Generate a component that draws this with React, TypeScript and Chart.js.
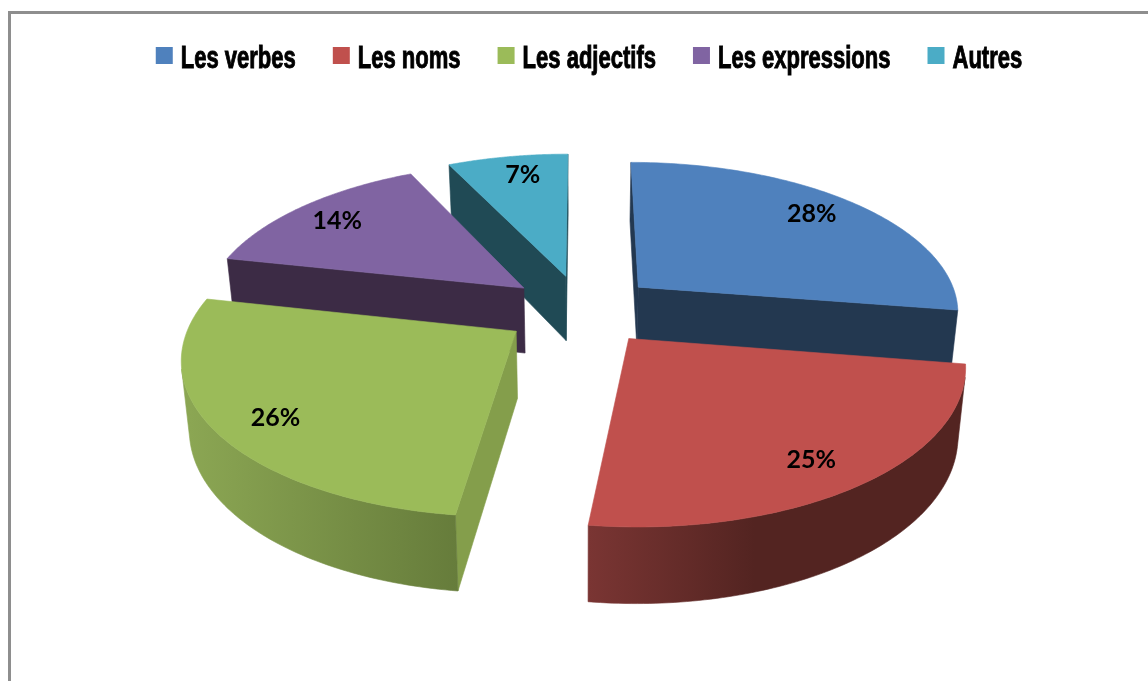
import React, { useEffect, useRef } from "react";
import { Chart, registerables } from "chart.js";

Chart.register(...registerables);

const categories = ["Les verbes", "Les noms", "Les adjectifs", "Les expressions", "Autres"];
const shares = [27.5, 24.5, 26.4, 14.49, 7.11];
const topColors = ["#4f81bd", "#c0504d", "#9bbb59", "#8064a2", "#4bacc6"];
const cutColors = ["#233850", "#532421", "#849e4b", "#3c2b45", "#204a55"];
const wallLeftColors = ["#233850", "#7a3533", "#8ba653", "#3c2b45", "#204a55"];
const wallRightColors = ["#233850", "#532421", "#667c3b", "#3c2b45", "#204a55"];
const explodeBy = [0.235, 0.235, 0.245, 0.235, 0.235];

const CX = 582, CY = 309.5, BX = 322, AY = 150, PERSP = 0.152, DEPTH = 66, TAPER = 0.02, LABEL_R = 0.985;
const paintOrder = [4, 3, 0, 2, 1];
const labelShift = [[10, -8], [13, 16], [-23, 15], [-17, -5], [2, -9]];

type P = [number, number];
const project = (u: number, n: number, z: number): P => {
  const s = 1 / (1 - PERSP * n);
  return [CX + BX * u * s * (1 - TAPER * z), CY + AY * n * s + DEPTH * z * Math.pow(s, 0.75)];
};

const area = (pts: P[]) => {
  let a = 0;
  for (let i = 0; i < pts.length; i++) {
    const [x1, y1] = pts[i];
    const [x2, y2] = pts[(i + 1) % pts.length];
    a += x1 * y2 - x2 * y1;
  }
  return a;
};

const fillPoly = (ctx: CanvasRenderingContext2D, pts: P[], fill: string | CanvasGradient) => {
  ctx.beginPath();
  pts.forEach(([x, y], i) => (i ? ctx.lineTo(x, y) : ctx.moveTo(x, y)));
  ctx.closePath();
  ctx.fillStyle = fill;
  ctx.strokeStyle = fill;
  ctx.lineWidth = 0.6;
  ctx.fill();
  ctx.stroke();
};

const LEGEND_CENTER = 589, LEGEND_SQUEEZE = 0.688, LEGEND_BOX = 17, LEGEND_GAP = 8, LEGEND_SPACING = 37;

const drawLegend = (ctx: CanvasRenderingContext2D) => {
  ctx.save();
  ctx.font = "bold 32px 'Liberation Sans'";
  ctx.textAlign = "left";
  ctx.textBaseline = "alphabetic";
  const widths = categories.map((c) => ctx.measureText(c).width * LEGEND_SQUEEZE);
  const total =
    widths.reduce((a, b) => a + b, 0) +
    categories.length * (LEGEND_BOX + LEGEND_GAP) +
    (categories.length - 1) * LEGEND_SPACING;
  let x = LEGEND_CENTER - total / 2;
  categories.forEach((c, i) => {
    ctx.fillStyle = topColors[i];
    ctx.fillRect(x, 47, LEGEND_BOX, LEGEND_BOX);
    const tx = x + LEGEND_BOX + LEGEND_GAP;
    ctx.save();
    ctx.translate(tx, 67.5);
    ctx.scale(LEGEND_SQUEEZE, 1);
    ctx.fillStyle = "#000000";
    ctx.strokeStyle = "#000000";
    ctx.lineWidth = 1;
    ctx.strokeText(c, 0, 0);
    ctx.fillText(c, 0, 0);
    ctx.restore();
    x = tx + widths[i] + LEGEND_SPACING;
  });
  ctx.restore();
};

const pie3d = {
  id: "pie3d",
  beforeDraw(chart: any) {
    const { ctx, width, height } = chart;
    ctx.save();
    ctx.fillStyle = "#ffffff";
    ctx.fillRect(0, 0, width, height);
    ctx.strokeStyle = "#8e8e8e";
    ctx.lineWidth = 3;
    ctx.beginPath();
    ctx.moveTo(9.5, height);
    ctx.lineTo(9.5, 12.5);
    ctx.lineTo(width, 12.5);
    ctx.stroke();
    ctx.restore();
    drawLegend(ctx);
  },
  beforeDatasetsDraw(chart: any) {
    const { ctx } = chart;
    const arcs = chart.getDatasetMeta(0).data;
    ctx.save();
    for (const i of paintOrder) {
      const { startAngle, endAngle } = arcs[i];
      const mid = (startAngle + endAngle) / 2;
      const eu = explodeBy[i] * Math.cos(mid), en = explodeBy[i] * Math.sin(mid);
      const steps = 96;
      const rim: [number, number][] = [];
      for (let k = 0; k <= steps; k++) {
        const a = startAngle + ((endAngle - startAngle) * k) / steps;
        rim.push([eu + Math.cos(a), en + Math.sin(a)]);
      }
      const grad = ctx.createLinearGradient(
        Math.min(...rim.map((r) => project(r[0], r[1], 1)[0])), 0,
        Math.max(...rim.map((r) => project(r[0], r[1], 1)[0])), 0
      );
      grad.addColorStop(0, wallLeftColors[i]);
      grad.addColorStop(i === 1 ? 0.45 : 1, wallRightColors[i]);
      grad.addColorStop(1, wallRightColors[i]);

      const wallOf = (a: [number, number], b: [number, number]): P[] => [
        project(a[0], a[1], 0),
        project(b[0], b[1], 0),
        project(b[0], b[1], 1),
        project(a[0], a[1], 1),
      ];
      const apex: [number, number] = [eu, en];
      const startCut = wallOf(apex, rim[0]);
      const endCut = wallOf(rim[steps], apex);
      if (area(startCut) < 0) fillPoly(ctx, startCut, cutColors[i]);
      if (area(endCut) < 0) fillPoly(ctx, endCut, cutColors[i]);

      let run: [number, number][] = [];
      const flush = () => {
        if (run.length > 1) {
          const top = run.map((r) => project(r[0], r[1], 0));
          const bottom = run.map((r) => project(r[0], r[1], 1)).reverse();
          fillPoly(ctx, [...top, ...bottom], grad);
        }
        run = [];
      };
      for (let k = 0; k < steps; k++) {
        if (area(wallOf(rim[k], rim[k + 1])) < 0) {
          if (!run.length) run.push(rim[k]);
          run.push(rim[k + 1]);
        } else flush();
      }
      flush();

      fillPoly(ctx, [apex, ...rim].map((r) => project(r[0], r[1], 0)), topColors[i]);
    }
    ctx.fillStyle = "#000000";
    ctx.font = "bold 25px Lato";
    ctx.textAlign = "center";
    ctx.textBaseline = "middle";
    arcs.forEach((arc: any, i: number) => {
      const mid = (arc.startAngle + arc.endAngle) / 2;
      const [x, y] = project(LABEL_R * Math.cos(mid), LABEL_R * Math.sin(mid), 0);
      ctx.fillText(`${Math.round(shares[i])}%`, x + labelShift[i][0], y + labelShift[i][1]);
    });
    ctx.restore();
    return false;
  },
};

export default function App() {
  const ref = useRef<HTMLCanvasElement>(null);
  useEffect(() => {
    const chart = new Chart(ref.current!, {
      type: "pie",
      data: {
        labels: categories,
        datasets: [{ data: shares, backgroundColor: topColors, borderWidth: 0 }],
      },
      options: {
        animation: false,
        responsive: false,
        events: [],
        plugins: {
          tooltip: { enabled: false },
          legend: { display: false },
        },
      },
      plugins: [pie3d],
    } as any);
    return () => chart.destroy();
  }, []);
  return (
    <div style={{ position: "fixed", left: 0, top: 0, width: 1148, height: 681 }}>
      <canvas ref={ref} width={1148} height={681} style={{ display: "block" }} />
    </div>
  );
}
